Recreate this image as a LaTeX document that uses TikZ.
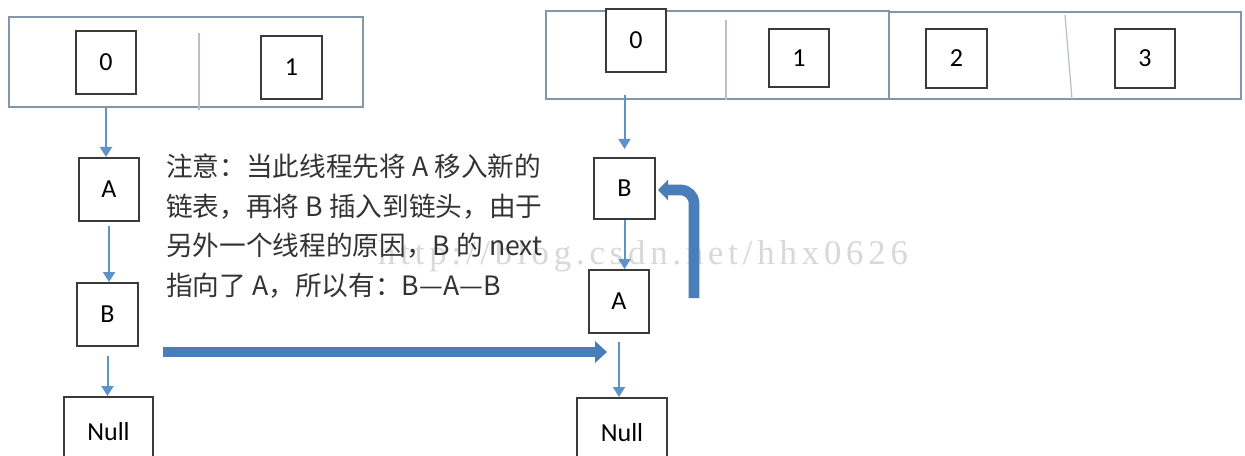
\documentclass[tikz,border=0pt]{standalone}
\usepackage{fontspec}
\setmainfont{Carlito}
\newfontfamily\cjk{Noto Sans CJK SC}
\newfontfamily\wmfont[LetterSpace=14]{Liberation Serif}
\usetikzlibrary{arrows.meta}
\definecolor{frameblue}{HTML}{8496AA}
\definecolor{divgray}{HTML}{B4C0CC}
\definecolor{boxline}{HTML}{3A3A3A}
\definecolor{arrowblue}{HTML}{5F92C8}
\definecolor{thickblue}{HTML}{4A7EBB}
\definecolor{wmgray}{HTML}{D8D8D8}
\definecolor{notegray}{HTML}{333333}
\begin{document}
\begin{tikzpicture}[x=0.75pt,y=-0.75pt,
  arrframe/.style={draw=frameblue,line width=2.2pt,inner sep=0pt},
  cell/.style={draw=boxline,line width=1.5pt,inner sep=0pt,font=\fontsize{19.5}{22}\selectfont,text=black},
  thinarrow/.style={draw=arrowblue,line width=1.5pt,-{Triangle[width=9pt,length=7.5pt]}},
  thickarrow/.style={draw=thickblue,line width=7.2pt,-{Triangle[width=16pt,length=9pt]}},
  bentarrow/.style={draw=thickblue,line width=8pt,-{Triangle[width=15pt,length=7.5pt]}},
  divider/.style={draw=divgray,line width=0.9pt},
  note/.style={anchor=base west,inner sep=0pt,font=\cjk\fontsize{20}{24}\selectfont,text=notegray}]
\clip (0,0) rectangle (1245,456);
\fill[white] (0,0) rectangle (1245,456);

% watermark
\node[font=\wmfont\fontsize{26}{26}\selectfont,text=wmgray] (wm) at (643,256) {http://blog.csdn.net/hhx0626};

% ---------- left table ----------
\node[arrframe,minimum width=265.5pt,minimum height=67.5pt] (larr) at (186,62) {};
\draw[divider] (199,33) -- (199,110);
\node[cell,minimum width=45pt,minimum height=47.25pt] (L0) at (106,62.5) {0};
\node[cell,minimum width=45.75pt,minimum height=47.25pt] (L1) at (291.5,67.5) {1};
\node[cell,minimum width=45pt,minimum height=47.25pt] (LA) at (109,189.5) {A};
\node[cell,minimum width=45.75pt,minimum height=47.25pt] (LB) at (107.5,314.5) {B};
\node[cell,minimum width=66.75pt,minimum height=52.5pt] (LN) at (108.5,432) {Null};

\draw[thinarrow] (L0.south |- larr.south) -- (L0.south |- LA.north);
\draw[thinarrow,shorten <=3pt] (LA.south) -- (LA.south |- LB.north);
\draw[thinarrow,shorten <=7pt] (LB.south) -- (LB.south |- LN.north);

% ---------- right table ----------
\node[arrframe,minimum width=257.25pt,minimum height=66pt] (rarr1) at (717.5,55) {};
\node[arrframe,minimum width=264pt,minimum height=65.25pt] (rarr2) at (1065,55.5) {};
\draw[divider] (726,20) -- (726,100);
\draw[divider] (1065,15) -- (1072,99);
\node[cell,fill=white,minimum width=45pt,minimum height=47.25pt] (R0) at (636,40.5) {0};
\node[cell,minimum width=45pt,minimum height=43.5pt] (R1) at (799,58) {1};
\node[cell,minimum width=45.75pt,minimum height=44.25pt] (R2) at (956.5,58.5) {2};
\node[cell,minimum width=45pt,minimum height=44.25pt] (R3) at (1145,58.5) {3};
\node[cell,minimum width=45.75pt,minimum height=45.75pt] (RB) at (624.5,188.5) {B};
\node[cell,minimum width=45pt,minimum height=47.25pt] (RA) at (619,301.5) {A};
\node[cell,minimum width=67.5pt,minimum height=52.5pt] (RN) at (622,433) {Null};

\draw[thinarrow,shorten >=6pt,shorten <=-4pt] (RB.north |- rarr1.south) -- (RB.north);
\draw[thinarrow] (RB.south) -- (RB.south |- RA.north);
\draw[thinarrow,shorten <=6pt] (RA.south) -- (RA.south |- RN.north);

% ---------- thick arrows ----------
\coordinate (h1) at (163,352);
\coordinate (h2) at (607,352);
\draw[thickarrow] (h1) -- (h2);
\coordinate (c1) at (694,298);
\coordinate (c2) at (658,190);
\draw[bentarrow,rounded corners=10pt] (c1) |- (c2);

% ---------- note ----------
\node[note] (t1) at (166,176) {注意：当此线程先将\ A\ 移入新的};
\node[note] (t2) at (166,216) {链表，再将\ B\ 插入到链头，由于};
\node[note] (t3) at (166,255.5) {另外一个线程的原因，B\ 的\ next};
\node[note] (t4) at (166,295) {指向了\ A，所以有：B—A—B};
\end{tikzpicture}
\end{document}
